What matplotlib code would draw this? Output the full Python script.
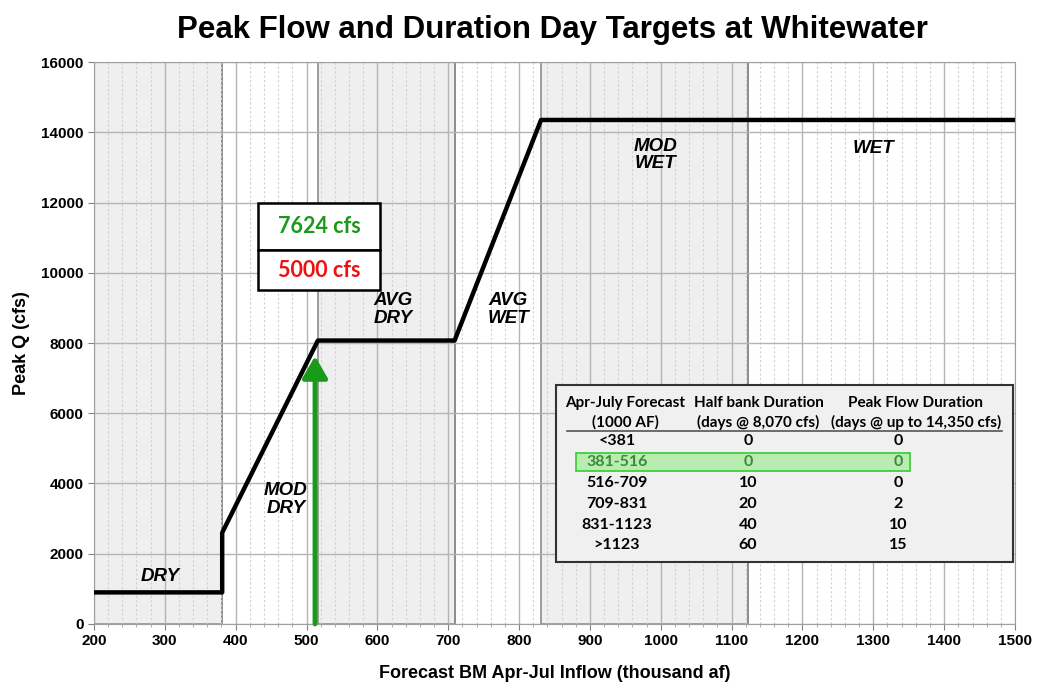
import matplotlib
matplotlib.use("Agg")
import matplotlib.pyplot as plt
from matplotlib.patches import Rectangle

plt.rcParams['font.family'] = ['Liberation Sans', 'DejaVu Sans']

# target curve
flow_x = [200, 381, 381, 516, 709, 831, 1500]
peak_q = [900, 900, 2600, 8070, 8070, 14350, 14350]

# year-type bands
band_edges = [200, 381, 516, 709, 831, 1123, 1500]
band_shaded = [True, False, True, False, True, False]
band_names = ["DRY", "MOD\nDRY", "AVG\nDRY", "AVG\nWET", "MOD\nWET", "WET"]
band_label_x = [293, 471, 622, 785, 992, 1300]
band_label_y = [1350, 3550, 8950, 8950, 13350, 13550]

# forecast
forecast_x = 512
forecast_q = 7624
target_q = 5000

# table
tbl_header1 = ["Apr-July Forecast", "Half bank Duration", "Peak Flow Duration"]
tbl_header2 = ["(1000 AF)", "(days @ 8,070 cfs)", "(days @ up to 14,350 cfs)"]
tbl_range = ["<381", "381-516", "516-709", "709-831", "831-1123", ">1123"]
tbl_half = ["0", "0", "10", "20", "40", "60"]
tbl_peak = ["0", "0", "0", "2", "10", "15"]
tbl_hilite = 1

fig = plt.figure(figsize=(10.37, 6.83), dpi=100)
ax = fig.add_axes([0.0906, 0.0864, 0.8882, 0.8228])

for i in range(len(band_shaded)):
    if band_shaded[i]:
        ax.axvspan(band_edges[i], band_edges[i + 1], facecolor="#efefef",
                   edgecolor="#8c8c8c", lw=1.2, zorder=0)
    else:
        ax.axvline(band_edges[i], color="#8c8c8c", lw=1.2, zorder=0.5)

ax.set_xlim(200, 1500)
ax.set_ylim(0, 16000)
ax.set_xticks(range(200, 1501, 100))
ax.set_xticks(range(200, 1501, 20), minor=True)
ax.set_yticks(range(0, 16001, 2000))
ax.grid(which="major", axis="both", color="#b4b4b4", lw=1.0, zorder=0.6)
ax.grid(which="minor", axis="x", color="#d0d0d0", lw=0.8, ls=(0, (2, 2)), zorder=0.6)
ax.set_axisbelow(True)

for s in ax.spines.values():
    s.set_color("#a0a0a0")
ax.tick_params(axis="both", which="major", labelsize=11, length=4, color="#808080")
ax.tick_params(axis="x", which="minor", length=2, color="#a0a0a0")
for lbl in ax.get_xticklabels() + ax.get_yticklabels():
    lbl.set_fontweight("bold")

ax.plot(flow_x, peak_q, color="black", lw=3.2, solid_capstyle="butt", zorder=3)

ax.annotate("", xy=(forecast_x, forecast_q), xytext=(forecast_x, 0),
            arrowprops=dict(arrowstyle="-|>,head_length=0.6,head_width=0.35",
                            color="#1a9a1a", lw=3.5,
                            mutation_scale=22, shrinkA=0, shrinkB=0), zorder=4)

for name, lx, ly in zip(band_names, band_label_x, band_label_y):
    ax.text(lx, ly, name, ha="center", va="center", fontsize=13.5,
            fontweight="bold", style="italic", linespacing=1.05, zorder=5)

# value boxes
ax.add_patch(Rectangle((432, 10646), 172, 1340, facecolor="white",
                       edgecolor="black", lw=1.8, zorder=5))
ax.add_patch(Rectangle((432, 9508), 172, 1138, facecolor="white",
                       edgecolor="black", lw=1.8, zorder=5))
ax.text(518, 11316, f"{forecast_q} cfs", ha="center", va="center", fontsize=15.5,
        fontweight="bold", color="#1a9a1a", family="Lato", zorder=6)
ax.text(518, 10077, f"{target_q} cfs", ha="center", va="center", fontsize=15.5,
        fontweight="bold", color="#ee1111", family="Lato", zorder=6)

# table
ax.add_patch(Rectangle((852, 1765), 645, 5035, facecolor="#f0f0f0",
                       edgecolor="#333333", lw=1.5, zorder=5))
head_x = [950, 1138, 1360]
val_x = [938, 1123, 1335]
for j in range(3):
    ax.text(head_x[j], 6290, tbl_header1[j], ha="center", va="center",
            fontsize=11, fontweight="bold", family="Lato", zorder=6)
    ax.text(head_x[j], 5750, tbl_header2[j], ha="center", va="center",
            fontsize=11, fontweight="bold", family="Lato", zorder=6)
ax.plot([868, 1482], [5490, 5490], color="#555555", lw=1.2, zorder=6)
row_y = [5210, 4610, 4010, 3420, 2820, 2250]
for i in range(len(tbl_range)):
    c = "#3a8a3a" if i == tbl_hilite else "black"
    if i == tbl_hilite:
        ax.add_patch(Rectangle((880, row_y[i] - 260), 472, 520, facecolor="#b8ecb0",
                               edgecolor="#33cc33", lw=1.2, zorder=5.5))
    for j, txt in enumerate([tbl_range[i], tbl_half[i], tbl_peak[i]]):
        ax.text(val_x[j], row_y[i], txt, ha="center", va="center", fontsize=11.5,
                fontweight="bold", color=c, family="Lato", zorder=6)

ax.set_xlabel("Forecast BM Apr-Jul Inflow (thousand af)", fontsize=13,
              fontweight="bold", labelpad=12)
ax.set_ylabel("Peak Q (cfs)", fontsize=13, fontweight="bold", labelpad=8)
fig.suptitle("Peak Flow and Duration Day Targets at Whitewater", fontsize=22.5,
             fontweight="bold", x=0.533, y=0.978)

fig.savefig("out.png", dpi=100)
